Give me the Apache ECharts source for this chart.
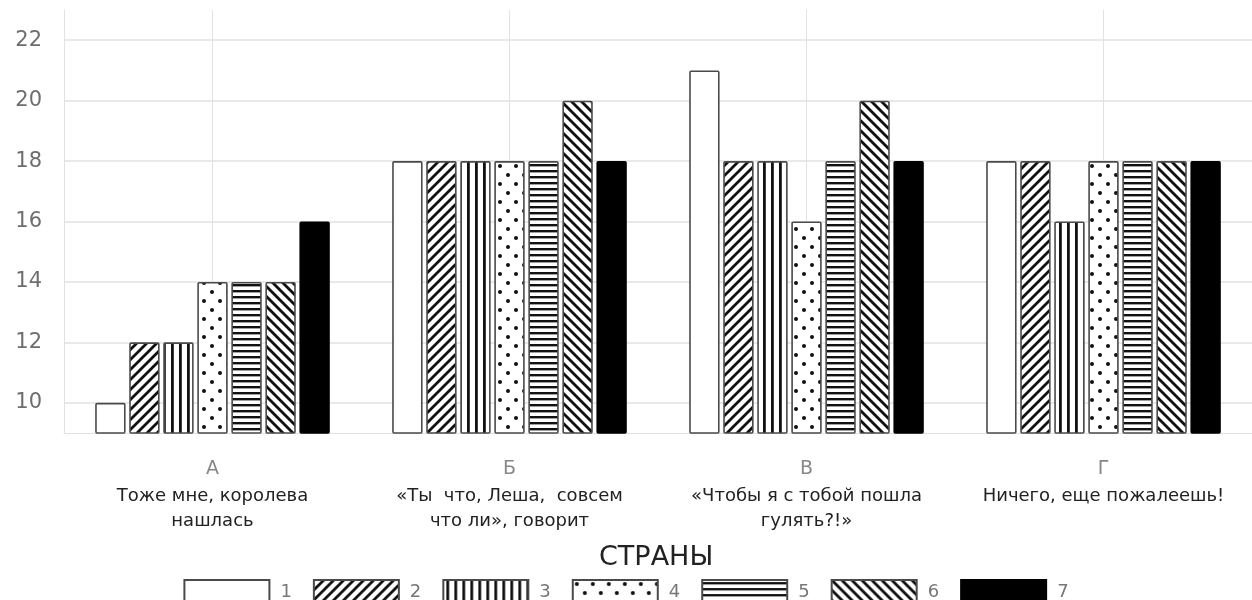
<!DOCTYPE html>
<html><head><meta charset="utf-8">
<script src="https://cdn.jsdelivr.net/npm/echarts@6/dist/echarts.min.js"></script>
<style>html,body{margin:0;padding:0;background:#fff}#chart{width:1252px;height:600px}</style>
</head><body><div id="chart"></div>
<script>
const categories = ['А', 'Б', 'В', 'Г'];
const captions = [
  'Тоже мне, королева\nнашлась',
  '«Ты  что, Леша,  совсем\nчто ли», говорит',
  '«Чтобы я с тобой пошла\nгулять?!»',
  'Ничего, еще пожалеешь!'
];
const seriesNames = ['1', '2', '3', '4', '5', '6', '7'];
const s1 = [10, 18, 21, 18];
const s2 = [12, 18, 18, 18];
const s3 = [12, 18, 18, 16];
const s4 = [14, 18, 16, 18];
const s5 = [14, 18, 18, 18];
const s6 = [14, 20, 20, 18];
const s7 = [16, 18, 18, 18];
const yTicks = [10, 12, 14, 16, 18, 20, 22];
const legendTitle = 'СТРАНЫ';

const FONT = 'DejaVu Sans';

function tile(w, h, draw) {
  const c = document.createElement('canvas');
  c.width = w; c.height = h;
  const g = c.getContext('2d');
  g.fillStyle = '#fff'; g.fillRect(0, 0, w, h);
  g.strokeStyle = '#111'; g.fillStyle = '#111';
  draw(g, w, h);
  return { image: c, repeat: 'repeat' };
}
function diagUp(g, s) {
  g.lineWidth = 2.8; g.lineCap = 'square';
  [[0, s, s, 0], [-s / 2, s / 2, s / 2, -s / 2], [s / 2, s * 1.5, s * 1.5, s / 2]].forEach(p => {
    g.beginPath(); g.moveTo(p[0], p[1]); g.lineTo(p[2], p[3]); g.stroke();
  });
}
function diagDown(g, s) {
  g.lineWidth = 2.8; g.lineCap = 'square';
  [[0, 0, s, s], [-s / 2, s / 2, s / 2, s * 1.5], [s / 2, -s / 2, s * 1.5, s / 2]].forEach(p => {
    g.beginPath(); g.moveTo(p[0], p[1]); g.lineTo(p[2], p[3]); g.stroke();
  });
}
const patterns = [
  '#ffffff',
  tile(10, 10, (g, w) => diagUp(g, w)),
  tile(8, 8, (g, w, h) => g.fillRect(3, 0, 2.8, h)),
  tile(16, 18, g => { g.beginPath(); g.arc(4, 4, 2, 0, Math.PI * 2); g.fill(); g.beginPath(); g.arc(12, 13, 2, 0, Math.PI * 2); g.fill(); }),
  tile(6, 6, (g, w) => g.fillRect(0, 2, w, 2.4)),
  tile(10, 10, (g, w) => diagDown(g, w)),
  '#000000'
];
const dataSets = [s1, s2, s3, s4, s5, s6, s7];

const series = dataSets.map((d, i) => ({
  name: seriesNames[i],
  type: 'bar',
  data: d,
  barGap: '12%',
  barCategoryGap: '21%',
  itemStyle: {
    color: patterns[i],
    borderColor: i === 6 ? '#000' : '#4a4a4a',
    borderWidth: 1.6,
    borderRadius: 1
  }
}));

const chart = echarts.init(document.getElementById('chart'));
chart.setOption({
  animation: false,
  backgroundColor: '#fff',
  title: {
    text: legendTitle,
    left: 594, top: 539,
    textStyle: { fontFamily: FONT, fontSize: 27, fontWeight: 'normal', color: '#222' }
  },
  legend: {
    left: 'center', top: 574,
    icon: 'rect',
    itemWidth: 85, itemHeight: 24, itemGap: 21,
    textStyle: { fontFamily: FONT, fontSize: 18, color: '#777', padding: [0, 0, 0, 6] },
    data: seriesNames
  },
  grid: { left: 64, right: -2, top: 10, bottom: 167, containLabel: false },
  xAxis: {
    type: 'category',
    data: categories,
    axisLine: { show: true, lineStyle: { color: '#e2e2e2', width: 1 } },
    axisTick: { show: false },
    splitLine: { show: true, alignWithLabel: true, lineStyle: { color: '#e2e2e2', width: 1 } },
    axisLabel: {
      interval: 0,
      margin: 21,
      formatter: (v, idx) => '{a|' + v + '}\n' + captions[idx].split('\n').map(l => '{b|' + l + '}').join('\n'),
      rich: {
        a: { fontFamily: FONT, fontSize: 19, color: '#888', lineHeight: 30 },
        b: { fontFamily: FONT, fontSize: 18, color: '#222', lineHeight: 25 }
      }
    }
  },
  yAxis: {
    type: 'value',
    min: 9, max: 23, interval: 1,
    axisLine: { show: true, lineStyle: { color: '#e2e2e2' } },
    axisTick: { show: false },
    splitLine: { show: true, lineStyle: { color: ['transparent', '#e2e2e2'], width: 1.5 } },
    axisLabel: {
      margin: 22,
      fontFamily: FONT, fontSize: 21, color: '#6e6e6e',
      formatter: v => yTicks.includes(v) ? String(v) : ''
    }
  },
  series: series
});
</script>
</body></html>
